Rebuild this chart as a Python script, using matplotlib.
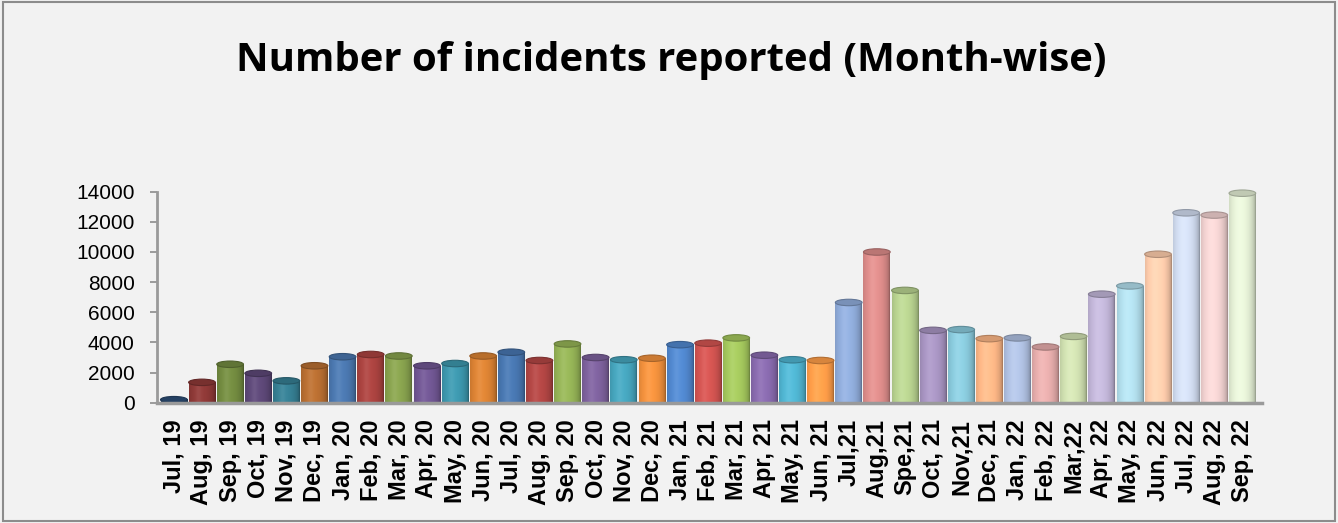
import numpy as np
import matplotlib
matplotlib.use("Agg")
import matplotlib.pyplot as plt
from matplotlib.patches import Ellipse, Rectangle
from matplotlib.colors import to_rgb

title = "Number of incidents reported (Month-wise)"

months = ["Jul, 19", "Aug, 19", "Sep, 19", "Oct, 19", "Nov, 19", "Dec, 19",
          "Jan, 20", "Feb, 20", "Mar, 20", "Apr, 20", "May, 20", "Jun, 20",
          "Jul, 20", "Aug, 20", "Sep, 20", "Oct, 20", "Nov, 20", "Dec, 20",
          "Jan, 21", "Feb, 21", "Mar, 21", "Apr, 21", "May, 21", "Jun, 21",
          "Jul,21", "Aug,21", "Spe,21", "Oct, 21", "Nov,21", "Dec, 21",
          "Jan, 22", "Feb, 22", "Mar,22", "Apr, 22", "May, 22", "Jun, 22",
          "Jul, 22", "Aug, 22", "Sep, 22"]

incidents = [200, 1350, 2550, 1950, 1450, 2450,
             3050, 3200, 3100, 2450, 2600, 3100,
             3350, 2800, 3900, 3000, 2850, 2950,
             3850, 3950, 4300, 3150, 2850, 2800,
             6650, 10000, 7450, 4800, 4850, 4250,
             4300, 3700, 4400, 7200, 7750, 9850,
             12600, 12450, 13900]

bar_colors = ["#2c4d75", "#8c3836", "#71893f", "#5c4776", "#357d91", "#b66d31",
              "#4a76ad", "#a8423f", "#86a04d", "#6f5591", "#3c95ab", "#d98133",
              "#4775ae", "#b04543", "#93b155", "#7c609b", "#45a3bb", "#ef8f3c",
              "#5086cc", "#d05350", "#a2c55c", "#8769ac", "#4fb3cf", "#fd9c48",
              "#8eaad8", "#db8b89", "#b6d08e", "#a693c0", "#88c8da", "#fbb585",
              "#aebfe0", "#e4abaa", "#cedeaf", "#c0b4d6", "#b0dcea", "#fdcbab",
              "#cfdaee", "#f0d0cf", "#e2edd3"]

y_ticks = [0, 2000, 4000, 6000, 8000, 10000, 12000, 14000]

BG = "#f2f2f2"
fig = plt.figure(figsize=(13.38, 5.23), dpi=100, facecolor=BG)
ax = fig.add_axes([0.11734, 0.23002, 0.8259, 0.40344])
ax.set_facecolor(BG)

x = np.arange(len(months))
w = 0.95
bars = ax.bar(x, incidents, width=w, color=bar_colors, zorder=2)

t = np.linspace(0, 1, 48)
shade = 0.64 + 0.42 * np.sqrt(np.clip(1 - ((t - 0.42) / 0.58) ** 2, 0, 1))
spec = np.exp(-((t - 0.35) / 0.12) ** 2) * 0.07
for b, c in zip(bars, bar_colors):
    x0, bw, h = b.get_x(), b.get_width(), b.get_height()
    rgb = np.array(to_rgb(c))
    img = np.clip(rgb[None, :] * shade[:, None], 0, 1)
    img = img + (1 - img) * spec[:, None]
    ax.imshow(img[None, :, :], extent=(x0, x0 + bw, 0, h), aspect='auto',
              zorder=3, interpolation='bilinear')
    ell = Ellipse((x0 + bw / 2, h), bw, 430, facecolor=np.clip(rgb * 0.85, 0, 1),
                  edgecolor=np.clip(rgb * 0.7, 0, 1), lw=0.8, zorder=4, clip_on=False)
    ax.add_patch(ell)

ax.set_xlim(-0.6, 38.7)
ax.set_ylim(0, 14000)
ax.set_yticks(y_ticks)
ax.set_yticklabels([str(v) for v in y_ticks], fontsize=15, family='Liberation Sans')
ax.set_xticks(x)
ax.set_xticklabels(months, rotation=90, fontsize=17, fontweight='bold',
                   family='Liberation Sans', va='top', ha='center')
ax.tick_params(axis='x', length=0, pad=12)
ax.tick_params(axis='y', length=5, width=1.2, color='#8c8c8c', pad=11)
for s in ['top', 'right']:
    ax.spines[s].set_visible(False)
ax.spines['left'].set_color('#9a9a9a')
ax.spines['left'].set_linewidth(2)
ax.spines['bottom'].set_color('#9a9a9a')
ax.spines['bottom'].set_linewidth(2.5)
ax.spines['bottom'].set_zorder(5)

# title fitted to the reference width
tt = fig.text(0.502, 0.8642, title, ha='center', va='baseline', fontsize=26,
              fontweight='bold', family='Open Sans')
fig.canvas.draw()
wpx = tt.get_window_extent().width
tt.set_fontsize(26 * 874 / wpx)

# outer frame
fig.patches.append(Rectangle((0.002, 0.003), 0.996, 0.994, transform=fig.transFigure,
                             fill=False, edgecolor='#8c8c8c', lw=1.5))

fig.savefig("out.png", dpi=100, facecolor=BG)
